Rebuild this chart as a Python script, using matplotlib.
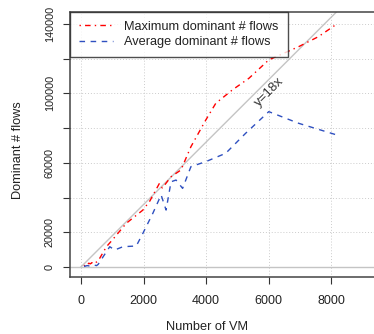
import matplotlib
matplotlib.use("Agg")
import matplotlib.pyplot as plt
import numpy as np

plt.rcParams['font.family'] = ['Liberation Sans', 'DejaVu Sans']

# Maximum dominant # flows
max_vm = [100, 150, 200, 250, 300, 350, 400, 450, 500, 550, 815, 1000, 1450, 1979, 2200,
          2508, 2600, 2878, 3196, 3354, 3513, 3989, 4307, 4836, 5365, 6000, 6952, 7587, 8127]
max_flows = [500, 1500, 1000, 2200, 1800, 2500, 2000, 3000, 2800, 3500, 11700, 15500, 25200,
             32800, 38000, 48200, 45500, 52000, 55900, 62600, 69300, 84700, 94300, 102000,
             108700, 119300, 126900, 132700, 139400]

# Average dominant # flows
avg_vm = [100, 200, 300, 400, 500, 550, 709, 921, 1079, 1344, 1768, 1979, 2296, 2561, 2720,
          2878, 3037, 3248, 3513, 3989, 4624, 5259, 6000, 6952, 8275]
avg_flows = [300, 800, 500, 1200, 800, 1500, 5900, 11700, 9800, 11700, 12100, 19400, 30900,
             41500, 32800, 49100, 50100, 45300, 57800, 60700, 65500, 77000, 89500, 82800, 75500]

slope = 18
x_ticks = [0, 2000, 4000, 6000, 8000]
y_ticks = [0, 20000, 40000, 60000, 80000, 100000, 120000, 140000]
y_labels = ['0', '20000', '', '60000', '', '100000', '', '140000']

W, H = 374, 334
fig = plt.figure(figsize=(W / 100, H / 100), dpi=100)
ax = fig.add_axes([70 / W, 1 - 277 / H, (W - 70) / W + 0.02, (277 - 12) / H])
ax.set_xlim(-349, 9600)
ax.set_ylim(-5760, 146900)

ax.set_xticks(x_ticks)
ax.set_yticks(y_ticks)
ax.set_yticklabels(y_labels, rotation=90, va='center', fontsize=7.8, color='#222222')
ax.set_xticklabels([str(v) for v in x_ticks], fontsize=9, color='#222222')
ax.tick_params(axis='x', length=5, width=0.8, pad=8, color='#333333')
ax.tick_params(axis='y', length=5, width=0.8, pad=6, color='#333333')

ax.grid(True, color='#cccccc', linestyle=(0, (1, 2)), linewidth=0.7)
ax.set_axisbelow(True)
for s in ax.spines.values():
    s.set_color('#444444')
    s.set_linewidth(1.1)

ax.axhline(0, color='#c4c4c4', linewidth=1.0, zorder=1)
xl = np.array([0, 9000])
ax.plot(xl, slope * xl, color='#c4c4c4', linewidth=1.0, zorder=1)
ax.text(6030, 101000, 'y=18x', rotation=45, ha='center', va='center', fontsize=9.5,
        color='#333333', rotation_mode='anchor')

ax.plot(max_vm, max_flows, color='red', linewidth=1.0, linestyle=(0, (1, 3, 4, 3)),
        label='Maximum dominant # flows', zorder=3)
ax.plot(avg_vm, avg_flows, color='#2f50c0', linewidth=1.0, linestyle=(0, (4, 4)),
        label='Average dominant # flows', zorder=3)

leg = ax.legend(loc='upper left', bbox_to_anchor=(0, 1), fontsize=9.2, frameon=True,
                fancybox=False, edgecolor='#222222', borderaxespad=0, handlelength=2.7,
                handletextpad=0.85, borderpad=0.7, labelspacing=0.25)
leg.get_frame().set_linewidth(1.0)
for t in leg.get_texts():
    t.set_color('#222222')

fig.text(18 / W, 1 - 150 / H, 'Dominant # flows', rotation=90, ha='center', va='center',
         fontsize=9.2, color='#222222')
fig.text(207 / W, 1 - 327 / H, 'Number of VM', ha='center', va='center',
         fontsize=9.2, color='#222222')

fig.savefig('out.png', dpi=100)
